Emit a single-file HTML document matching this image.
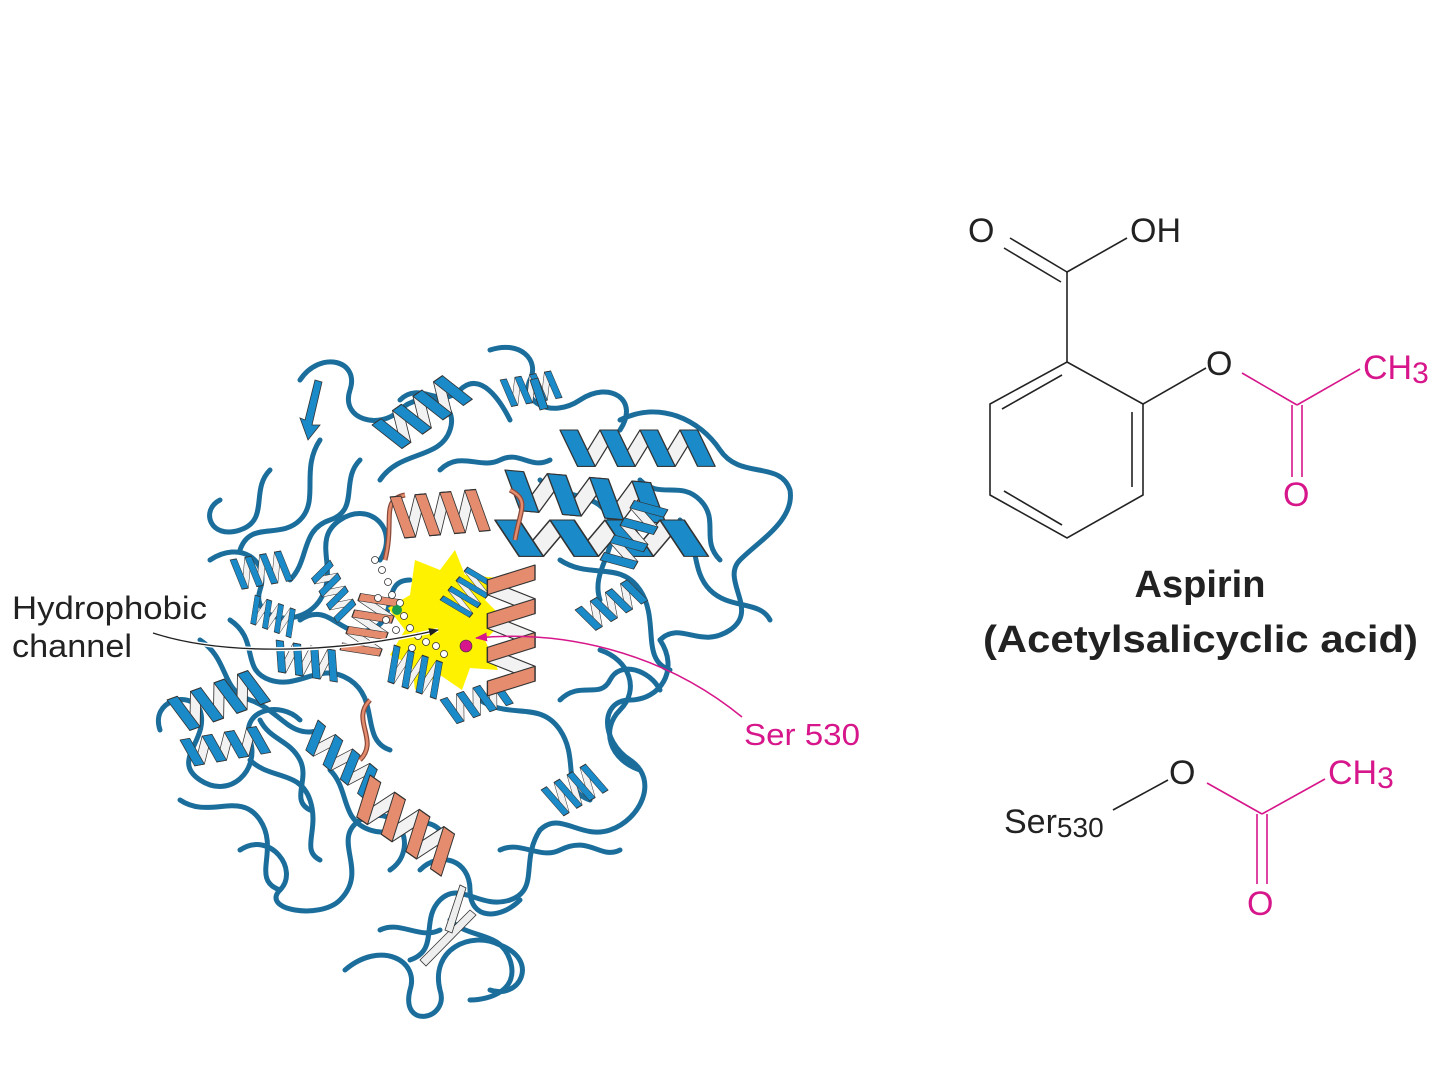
<!DOCTYPE html>
<html><head><meta charset="utf-8"><style>
html,body{margin:0;padding:0;background:#fff;}
svg{display:block;}
text{font-family:"Liberation Sans",sans-serif;}
</style></head><body>
<svg width="1440" height="1080" viewBox="0 0 1440 1080" xmlns="http://www.w3.org/2000/svg">
<defs>
<g id="hx">
  <g stroke="#333" stroke-width="0.8" stroke-linejoin="round">
    <polygon points="11,28 22,28 36,0 25,0" fill="#f2f2f2"/>
    <polygon points="36,28 47,28 61,0 50,0" fill="#f2f2f2"/>
    <polygon points="61,28 72,28 86,0 75,0" fill="#f2f2f2"/>
    <polygon points="0,0 11,0 22,28 11,28" fill="#1a8bc8"/>
    <polygon points="25,0 36,0 47,28 36,28" fill="#1a8bc8"/>
    <polygon points="50,0 61,0 72,28 61,28" fill="#1a8bc8"/>
    <polygon points="75,0 86,0 97,28 86,28" fill="#1a8bc8"/>
  </g>
</g>
<g id="hs">
  <g stroke="#333" stroke-width="0.8" stroke-linejoin="round">
    <polygon points="11,28 22,28 36,0 25,0" fill="#f2f2f2"/>
    <polygon points="36,28 47,28 61,0 50,0" fill="#f2f2f2"/>
    <polygon points="61,28 72,28 86,0 75,0" fill="#f2f2f2"/>
    <polygon points="0,0 11,0 22,28 11,28" fill="#e58c6e"/>
    <polygon points="25,0 36,0 47,28 36,28" fill="#e58c6e"/>
    <polygon points="50,0 61,0 72,28 61,28" fill="#e58c6e"/>
    <polygon points="75,0 86,0 97,28 86,28" fill="#e58c6e"/>
  </g>
</g>
<marker id="ab" markerWidth="10" markerHeight="8" refX="9" refY="4" orient="auto" markerUnits="userSpaceOnUse"><path d="M0,0 L10,4 L0,8 Z" fill="#222"/></marker>
<marker id="am" markerWidth="12" markerHeight="9" refX="11" refY="4.5" orient="auto" markerUnits="userSpaceOnUse"><path d="M0,0 L12,4.5 L0,9 Z" fill="#d6168a"/></marker>
</defs>

<!-- loops (tubes) -->
<g fill="none" stroke="#1b6e9c" stroke-width="5" stroke-linecap="round" stroke-linejoin="round">
<path d="M345,970 C380,940 420,960 410,990 C400,1030 450,1020 440,990 C430,950 470,930 500,945 C540,960 520,1000 490,990"/>
<path d="M240,850 C270,830 300,870 280,890 C260,910 320,920 340,900 C370,870 330,840 360,820 C400,800 420,850 390,870"/>
<path d="M160,730 C150,700 190,690 200,710 C210,740 170,760 200,780 C230,800 260,770 250,740 C240,710 280,700 300,720"/>
<path d="M210,560 C240,540 270,560 260,590 C250,620 300,630 320,600 C340,570 310,540 340,520 C370,500 400,530 380,560"/>
<path d="M300,380 C320,350 360,360 350,390 C340,420 380,430 400,410 C420,390 460,400 450,430 C440,460 400,450 380,480"/>
<path d="M490,350 C520,340 540,360 530,380 C520,400 550,420 580,400 C610,380 640,400 620,430"/>
<path d="M620,420 C660,400 700,420 720,450 C740,480 780,460 790,490 C795,520 760,540 740,560 C720,580 760,610 730,630 C700,650 680,620 660,640"/>
<path d="M660,640 C680,670 660,700 630,700 C600,700 600,740 630,760 C660,780 640,820 610,830 C580,840 560,810 540,830"/>
<path d="M540,830 C520,860 540,890 510,900 C480,910 460,880 440,900 C420,920 440,950 410,960"/>
<path d="M420,870 C440,850 470,860 470,890 C470,920 500,920 520,900"/>
<path d="M230,620 C260,640 240,670 270,680 C300,690 320,660 350,680 C380,700 360,740 390,750"/>
<path d="M180,800 C210,820 240,790 260,820 C280,850 250,880 280,890"/>
<path d="M320,440 C300,470 320,500 300,520 C280,540 250,520 240,550"/>
<path d="M560,560 C590,580 620,560 640,590 C660,620 640,660 670,670"/>
<path d="M480,700 C510,720 540,700 560,730 C580,760 560,790 590,800"/>
<path d="M300,620 C330,600 340,640 370,630 C400,620 380,580 410,580"/>
<path d="M330,770 C350,790 340,820 370,830 C400,840 420,810 440,830"/>
<path d="M540,480 C560,500 600,490 610,520 C620,550 590,570 600,600"/>
<path d="M400,400 C420,380 440,410 460,390 C480,370 500,400 510,420"/>
<path d="M450,920 C470,940 500,930 510,960 C520,990 490,1000 470,1000"/>
<path d="M270,470 C250,490 270,520 240,530 C210,540 200,510 220,500"/>
<path d="M360,460 C340,480 360,510 330,520 C300,530 310,560 290,580"/>
<path d="M200,640 C230,660 220,690 250,700 C280,710 290,740 320,730"/>
<path d="M600,650 C630,660 640,690 620,710 C600,730 610,760 640,770"/>
<path d="M680,520 C700,540 690,570 710,590 C730,610 760,600 770,620"/>
<path d="M250,760 C270,780 300,770 310,800 C320,830 300,850 320,860"/>
<path d="M500,850 C520,840 540,860 560,850 C590,835 600,860 620,850"/>
<path d="M440,470 C460,450 480,470 500,460 C520,450 530,470 550,460"/>
<path d="M560,700 C580,680 600,700 610,680 C620,660 650,670 660,690"/>
<path d="M380,930 C400,920 420,940 440,930"/>
<path d="M260,720 C270,740 290,740 300,760 C310,780 290,800 310,810"/>
<path d="M640,480 C660,500 680,480 700,500 C720,520 700,540 720,560"/>
</g>

<!-- yellow channel -->
<path d="M415,560 L440,570 L455,550 L465,575 L500,578 L485,600 L505,620 L485,640 L498,670 L470,668 L462,690 L440,675 L415,690 L412,665 L390,655 L405,630 L388,608 L410,595 Z" fill="#fff200"/>

<!-- blue helices -->
<use href="#hx" transform="translate(372,425) rotate(-35) scale(1.0,1.3)"/>
<use href="#hx" transform="translate(560,430) rotate(0) scale(1.6,1.3)"/>
<use href="#hx" transform="translate(505,470) rotate(5) scale(1.7,1.4)"/>
<use href="#hx" transform="translate(495,520) rotate(0) scale(2.2,1.3)"/>
<use href="#hx" transform="translate(167,700) rotate(-20) scale(1.0,1.3)"/>
<use href="#hx" transform="translate(180,740) rotate(-10) scale(0.9,1.0)"/>
<use href="#hx" transform="translate(318,720) rotate(40) scale(0.9,1.1)"/>
<use href="#hx" transform="translate(541,790) rotate(-30) scale(0.6,1.2)"/>
<use href="#hx" transform="translate(276,640) rotate(10) scale(0.7,1.1)"/>
<use href="#hx" transform="translate(394,645) rotate(20) scale(0.6,1.3)"/>
<use href="#hx" transform="translate(500,380) rotate(-10) scale(0.6,1.0)"/>
<use href="#hx" transform="translate(575,610) rotate(-30) scale(0.7,1.0)"/>
<use href="#hx" transform="translate(330,560) rotate(60) scale(0.6,0.9)"/>
<use href="#hx" transform="translate(440,700) rotate(-20) scale(0.7,1.0)"/>
<use href="#hx" transform="translate(600,560) rotate(-60) scale(0.8,1.2)"/>
<use href="#hx" transform="translate(230,560) rotate(-10) scale(0.6,1.1)"/>
<use href="#hx" transform="translate(440,600) rotate(-50) scale(0.5,1.2)"/>
<use href="#hx" transform="translate(255,595) rotate(20) scale(0.5,1.0)"/>

<!-- beta strands -->
<g fill="#1a8bc8" stroke="#333" stroke-width="0.8">
<polygon points="305,420 315,380 322,382 312,425 320,425 308,440 300,418"/>
<polygon points="530,380 540,410 548,408 538,378"/>
</g>
<g fill="#eee" stroke="#333" stroke-width="0.8">
<polygon points="420,960 470,910 476,915 426,966"/>
<polygon points="445,930 460,885 466,888 452,933"/>
</g>

<!-- salmon helices & coil -->
<path d="M385,560 C395,520 380,500 405,495 M515,540 C520,510 530,500 510,490 M370,700 C350,720 380,740 360,760" fill="none" stroke="#8a4a3a" stroke-width="5"/>
<path d="M385,560 C395,520 380,500 405,495 M515,540 C520,510 530,500 510,490 M370,700 C350,720 380,740 360,760" fill="none" stroke="#e58c6e" stroke-width="2.5"/>
<use href="#hs" transform="translate(390,497) rotate(-5) scale(1.0,1.5)"/>
<use href="#hs" transform="translate(535,565) rotate(90) scale(1.35,1.7)"/>
<use href="#hs" transform="translate(370,775) rotate(35) scale(1.2,1.5)"/>
<use href="#hs" transform="translate(340,650) rotate(-70) scale(0.7,1.4)"/>

<!-- ball and stick -->
<g stroke="#333" stroke-width="0.8" fill="#fff">
<circle cx="375" cy="560" r="3.5"/><circle cx="382" cy="570" r="3.5"/><circle cx="388" cy="582" r="3.5"/>
<circle cx="392" cy="595" r="3.5"/><circle cx="400" cy="603" r="3.5"/><circle cx="404" cy="616" r="3.5"/>
<circle cx="410" cy="628" r="3.5"/><circle cx="418" cy="636" r="3.5"/><circle cx="426" cy="642" r="3.5"/>
<circle cx="436" cy="646" r="3.5"/><circle cx="386" cy="620" r="3.5"/><circle cx="396" cy="630" r="3.5"/>
<circle cx="378" cy="598" r="3.5"/><circle cx="412" cy="648" r="3.5"/><circle cx="444" cy="654" r="3.5"/>
</g>
<circle cx="397" cy="610" r="5" fill="#1a9a50"/>

<!-- labels / arrows -->
<text x="12" y="619" font-size="32" fill="#222" textLength="195" lengthAdjust="spacingAndGlyphs">Hydrophobic</text>
<text x="12" y="657" font-size="32" fill="#222" textLength="120" lengthAdjust="spacingAndGlyphs">channel</text>
<path d="M153,633 C220,655 330,655 438,630" fill="none" stroke="#fff" stroke-width="4"/>
<path d="M153,633 C220,655 330,655 438,630" fill="none" stroke="#222" stroke-width="1.3" marker-end="url(#ab)"/>
<path d="M742,717 C660,650 560,630 476,638" fill="none" stroke="#d6168a" stroke-width="1.5" marker-end="url(#am)"/>
<circle cx="466" cy="646" r="6" fill="#d6168a" stroke="#333" stroke-width="0.6"/>
<text x="744" y="745" font-size="31" fill="#d6168a" textLength="116" lengthAdjust="spacingAndGlyphs">Ser 530</text>

<!-- aspirin -->
<g stroke="#222" stroke-width="1.6" fill="none">
<line x1="1067" y1="272" x2="1010" y2="238"/>
<line x1="1061" y1="282" x2="1004" y2="248"/>
<line x1="1067" y1="272" x2="1127" y2="238"/>
<line x1="1067" y1="272" x2="1067" y2="362"/>
<polygon points="1067,362 1143,404 1143,495 1067,538 990,495 990,404"/>
<line x1="1062" y1="375" x2="1002" y2="409"/>
<line x1="1132" y1="412" x2="1132" y2="487"/>
<line x1="1062" y1="525" x2="1004" y2="491"/>
<line x1="1143" y1="404" x2="1206" y2="368"/>
</g>
<g stroke="#d6168a" stroke-width="1.6" fill="none">
<line x1="1242" y1="373" x2="1297" y2="405"/>
<line x1="1297" y1="405" x2="1360" y2="369"/>
<line x1="1292" y1="405" x2="1292" y2="477"/>
<line x1="1302" y1="405" x2="1302" y2="477"/>
</g>
<text x="968" y="242" font-size="34" fill="#222">O</text>
<text x="1130" y="242" font-size="34" fill="#222">OH</text>
<text x="1206" y="375" font-size="34" fill="#222">O</text>
<text x="1363" y="379" font-size="34" fill="#d6168a">CH<tspan font-size="30" dy="4">3</tspan></text>
<text x="1283" y="506" font-size="34" fill="#d6168a">O</text>
<text x="1200" y="597" font-size="38" font-weight="bold" text-anchor="middle" fill="#222">Aspirin</text>
<text x="983" y="652" font-size="38" font-weight="bold" fill="#222" textLength="435" lengthAdjust="spacingAndGlyphs">(Acetylsalicyclic acid)</text>

<!-- Ser530 acetyl -->
<g stroke="#222" stroke-width="1.6"><line x1="1113" y1="810" x2="1168" y2="780"/></g>
<g stroke="#d6168a" stroke-width="1.6">
<line x1="1207" y1="783" x2="1262" y2="814"/>
<line x1="1262" y1="814" x2="1325" y2="779"/>
<line x1="1257" y1="814" x2="1257" y2="884"/>
<line x1="1267" y1="814" x2="1267" y2="884"/>
</g>
<text x="1004" y="833" font-size="34" fill="#222">Ser<tspan font-size="28" dy="4">530</tspan></text>
<text x="1169" y="784" font-size="34" fill="#222">O</text>
<text x="1328" y="784" font-size="34" fill="#d6168a">CH<tspan font-size="30" dy="4">3</tspan></text>
<text x="1247" y="915" font-size="34" fill="#d6168a">O</text>
</svg>
</body></html>
